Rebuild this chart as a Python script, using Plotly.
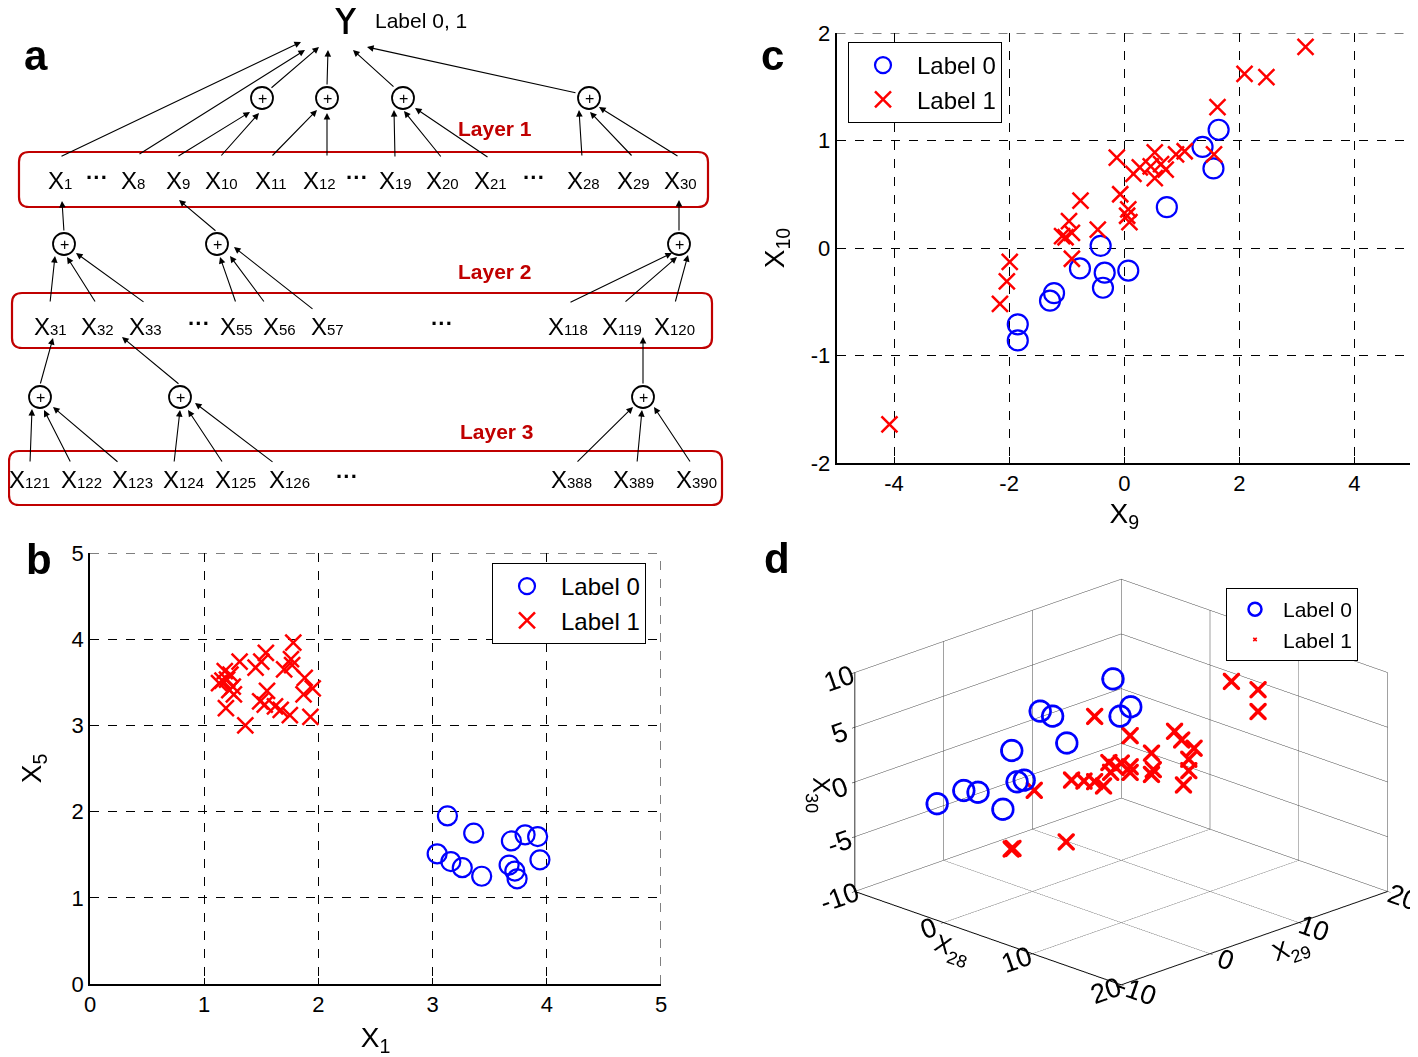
import plotly.graph_objects as go

# The page body has an 8px margin, so the figure is sized to fill the rest of the window
OFF = 8
VW, VH = 1418, 1057
W, H = VW - OFF, VH - OFF


def px(x):
    return (x - OFF) / W


def py(y):
    return 1 - (y - OFF) / H


# ---------------- panel b data (X1 vs X5) ----------------
b_l0_x1 = [3.13, 3.36, 3.69, 3.81, 3.92, 3.04, 3.16, 3.26, 3.43, 3.67, 3.72, 3.74, 3.94]
b_l0_x5 = [1.95, 1.75, 1.66, 1.73, 1.71, 1.51, 1.42, 1.35, 1.25, 1.38, 1.31, 1.22, 1.44]
b_l1_x1 = [1.78, 1.54, 1.31, 1.76, 1.50, 1.45, 1.18, 1.23, 1.70, 1.77, 1.13, 1.20, 1.25, 1.16,
           1.88, 1.95, 1.87, 1.55, 1.26, 1.19, 1.53, 1.62, 1.67, 1.75, 1.93, 1.36, 1.49, 1.22]
b_l1_x5 = [3.96, 3.84, 3.74, 3.77, 3.74, 3.67, 3.63, 3.59, 3.65, 3.70, 3.49, 3.53, 3.45, 3.52,
           3.55, 3.43, 3.36, 3.40, 3.36, 3.20, 3.24, 3.22, 3.18, 3.12, 3.10, 3.00, 3.28, 3.41]
b_ticks = [0, 1, 2, 3, 4, 5]
b_ticktext = ["0", "1", "2", "3", "4", "5"]

# ---------------- panel c data (X9 vs X10) ----------------
c_l0_x9 = [-1.85, -1.85, -1.22, -1.29, -0.77, -0.41, -0.34, -0.37, 0.07, 0.74, 1.36, 1.64, 1.55]
c_l0_x10 = [-0.71, -0.86, -0.42, -0.49, -0.19, 0.02, -0.23, -0.37, -0.21, 0.38, 0.94, 1.10, 0.74]
c_l1_x9 = [-4.08, -2.16, -2.04, -1.99, -0.91, -1.02, -0.91, -0.96, -1.08, -0.76, -0.46, -0.13,
           -0.07, 0.07, 0.09, 0.05, 0.16, 0.27, 0.46, 0.53, 0.53, 0.64, 0.72, 0.90, 1.05, 1.56,
           1.62, 2.09, 2.47, 3.15]
c_l1_x10 = [-1.64, -0.52, -0.31, -0.13, -0.10, 0.10, 0.14, 0.25, 0.11, 0.44, 0.17, 0.84,
            0.50, 0.36, 0.24, 0.30, 0.69, 0.75, 0.76, 0.89, 0.65, 0.78, 0.73, 0.87, 0.90, 0.87,
            1.31, 1.62, 1.59, 1.87]
c_xticks = [-4, -2, 0, 2, 4]
c_xticktext = ["-4", "-2", "0", "2", "4"]
c_yticks = [-2, -1, 0, 1, 2]
c_yticktext = ["-2", "-1", "0", "1", "2"]

# ---------------- panel d data (X28, X29, X30) ----------------
d_l0_x28 = [-3.9, -5.4, -0.1, 2.8, -4.2, 0.6, -0.5, -2.6, 2.6, 4.9, 3.0, 6.4, 5.5]
d_l0_x29 = [-6.9, -2.4, -6.1, -6.2, 1.8, -2.4, -0.5, 3.4, -0.4, -1.1, 6.0, 3.4, 5.5]
d_l0_x30 = [-1.1, -1.6, 0.8, 0.1, 1.2, 0.9, 0.2, 4.8, 6.9, 5.3, 8.6, 6.9, 6.9]
d_l1_x28 = [1.8, 0.4, 6.4, -1.4, 0.5, 7.0, 5.2, 2.9, 5.0, 2.5, 7.3, 3.2, 6.5, 2.5, 8.5,
            5.2, 8.3, 3.7, 9.5, 6.9, 9.1, 11.8, 7.3, 10.0, 8.2, 14.2, 11.2, 4.4]
d_l1_x29 = [-4.2, -2.6, -2.6, 1.6, 6.5, 4.0, -0.8, 2.9, 2.0, 5.5, 1.3, 6.2, 3.5, 8.5, 2.5,
            8.2, 5.3, 9.7, 6.5, 9.9, 9.1, 5.8, 10.3, 7.0, 14.2, 11.2, 14.2, 4.4]
d_l1_x30 = [-4.4, -5.2, -2.9, -1.6, 4.3, 5.1, 1.9, 0.1, 0.9, -1.2, 3.5, 0.5, 2.6, -0.3, 2.6,
            1.8, 2.0, -1.0, 5.5, 3.0, 3.1, 3.8, 0.2, 0.6, 7.5, 9.3, 5.6, 0.9]
d_xyticks = [-10, 0, 10, 20]
d_xyticktext = ["-10", "0", "10", "20"]
d_zticks = [-10, -5, 0, 5, 10]
d_zticktext = ["-10", "-5", "0", "5", "10"]

# ---------------- panel a: schematic (window pixel coordinates) ----------------
layer_boxes = [(19, 152, 708, 207), (12, 293, 712, 348), (9, 451, 722, 505)]
layer_titles = [("Layer 1", 495, 128), ("Layer 2", 495, 271), ("Layer 3", 497, 431)]
node_labels = [
    ("1", 60, 180), ("8", 133, 180), ("9", 178, 180), ("10", 221, 180), ("11", 271, 180),
    ("12", 319, 180), ("19", 395, 180), ("20", 442, 180), ("21", 490, 180), ("28", 583, 180),
    ("29", 633, 180), ("30", 680, 180),
    ("31", 50, 326), ("32", 97, 326), ("33", 145, 326), ("55", 236, 326), ("56", 279, 326),
    ("57", 327, 326), ("118", 568, 326), ("119", 622, 326), ("120", 674, 326),
    ("121", 29, 479), ("122", 81, 479), ("123", 132, 479), ("124", 183, 479), ("125", 235, 479),
    ("126", 289, 479), ("388", 571, 479), ("389", 633, 479), ("390", 696, 479),
]
ellipses = [(97, 177), (357, 177), (534, 177), (199, 323), (442, 323), (347, 476)]
plus_nodes = [(262, 98), (327, 98), (403, 98), (589, 98),
              (64, 244), (217, 244), (679, 244),
              (40, 397), (180, 397), (643, 397)]
arrows = [  # tail x, tail y, head x, head y
    (60, 157, 301, 42), (138, 155, 305, 50), (270, 89, 319, 47), (327, 86, 328, 50),
    (395, 88, 353, 50), (577, 93, 367, 47),
    (177, 157, 250, 112), (220, 157, 259, 113), (271, 157, 317, 110), (327, 157, 327, 113),
    (395, 158, 394, 110), (442, 158, 404, 111), (489, 158, 415, 108),
    (582, 157, 579, 110), (633, 157, 590, 112), (679, 157, 599, 107),
    (64, 232, 62, 201), (217, 232, 179, 200), (679, 232, 679, 200),
    (50, 303, 55, 256), (96, 303, 67, 257), (145, 303, 76, 253),
    (236, 303, 220, 257), (265, 303, 230, 256), (314, 310, 234, 247),
    (569, 303, 672, 253), (624, 303, 677, 257), (675, 303, 688, 255),
    (40, 385, 53, 338), (180, 385, 122, 337), (643, 385, 643, 337),
    (30, 463, 32, 409), (71, 463, 44, 410), (119, 463, 53, 407),
    (174, 463, 180, 410), (223, 463, 188, 410), (274, 463, 195, 403),
    (576, 463, 633, 407), (637, 463, 642, 410), (691, 463, 654, 407),
]

RED = "#c00000"
FONT = "Liberation Sans, Arial, sans-serif"

fig = go.Figure()

# panel b
fig.add_trace(go.Scatter(x=b_l0_x1, y=b_l0_x5, mode="markers", name="Label 0",
                         marker=dict(symbol="circle-open", size=19, color="#0000ff",
                                     line=dict(width=2.2, color="#0000ff")),
                         xaxis="x", yaxis="y", legend="legend"))
fig.add_trace(go.Scatter(x=b_l1_x1, y=b_l1_x5, mode="markers", name="Label 1",
                         marker=dict(symbol="x-thin", size=16, color="#ff0000",
                                     line=dict(width=2.5, color="#ff0000")),
                         xaxis="x", yaxis="y", legend="legend"))
# panel c
fig.add_trace(go.Scatter(x=c_l0_x9, y=c_l0_x10, mode="markers", name="Label 0",
                         marker=dict(symbol="circle-open", size=20, color="#0000ff",
                                     line=dict(width=2.2, color="#0000ff")),
                         xaxis="x2", yaxis="y2", legend="legend2"))
fig.add_trace(go.Scatter(x=c_l1_x9, y=c_l1_x10, mode="markers", name="Label 1",
                         marker=dict(symbol="x-thin", size=16, color="#ff0000",
                                     line=dict(width=2.5, color="#ff0000")),
                         xaxis="x2", yaxis="y2", legend="legend2"))
# panel d
fig.add_trace(go.Scatter3d(x=d_l0_x28, y=d_l0_x29, z=d_l0_x30, mode="markers", name="Label 0",
                           marker=dict(symbol="circle-open", size=13, color="#0000ff",
                                       line=dict(width=2.5, color="#0000ff")),
                           scene="scene", legend="legend3"))
fig.add_trace(go.Scatter3d(x=d_l1_x28, y=d_l1_x29, z=d_l1_x30, mode="markers", name="Label 1",
                           marker=dict(symbol="x", size=4, color="#ff0000"),
                           scene="scene", legend="legend3"))
# invisible trace anchoring the schematic axes
fig.add_trace(go.Scatter(x=[None], y=[None], xaxis="x3", yaxis="y3", showlegend=False,
                         hoverinfo="skip"))

# ---------- axes for b and c ----------
common = dict(showline=True, linecolor="black", linewidth=1.5, ticks="inside", ticklen=6,
              tickcolor="black", showgrid=True, gridcolor="black", griddash="dash",
              gridwidth=1, zeroline=False, mirror=False, automargin=False,
              tickfont=dict(family=FONT, size=22, color="black"))
tfont = dict(family=FONT, size=28, color="black")

fig.update_layout(
    xaxis=dict(domain=[px(90), px(661)], range=[0, 5], tickvals=b_ticks, ticktext=b_ticktext,
               anchor="y", title=dict(text="X<sub>1</sub>", font=tfont, standoff=14), **common),
    yaxis=dict(domain=[py(984), py(553)], range=[0, 5], tickvals=b_ticks,
               ticktext=b_ticktext, anchor="x",
               title=dict(text="X<sub>5</sub>", font=tfont, standoff=22), **common),
    xaxis2=dict(domain=[px(836.5), px(1412)], range=[-5, 5], tickvals=c_xticks,
                ticktext=c_xticktext, anchor="y2",
                title=dict(text="X<sub>9</sub>", font=tfont, standoff=8), **common),
    yaxis2=dict(domain=[py(463), py(33)], range=[-2, 2], tickvals=c_yticks,
                ticktext=c_yticktext, anchor="x2",
                title=dict(text="X<sub>10</sub>", font=tfont, standoff=18), **common),
    xaxis3=dict(domain=[0, px(725)], range=[OFF, 725], visible=False, fixedrange=True,
                anchor="y3", automargin=False),
    yaxis3=dict(domain=[py(512), 1], range=[512, OFF], visible=False, fixedrange=True,
                anchor="x3", automargin=False),
)

# ---------- 3D scene ----------
ax3 = dict(showbackground=False, gridcolor="#444444", gridwidth=1, showline=True,
           linecolor="black", linewidth=2, zeroline=False, showspikes=False,
           ticks="outside", tickcolor="black", ticklen=4,
           tickfont=dict(family=FONT, size=18, color="black"))
fig.update_layout(scene=dict(
    domain=dict(x=[px(770), 1], y=[0, py(507)]),
    xaxis=dict(range=[-10, 20], tickvals=d_xyticks, ticktext=d_xyticktext,
               title=dict(text="X<sub>28</sub>", font=dict(family=FONT, size=24)), **ax3),
    yaxis=dict(range=[-10, 20], tickvals=d_xyticks, ticktext=d_xyticktext,
               title=dict(text="X<sub>29</sub>", font=dict(family=FONT, size=24)), **ax3),
    zaxis=dict(range=[-10, 10], tickvals=d_zticks, ticktext=d_zticktext,
               title=dict(text="X<sub>30</sub>", font=dict(family=FONT, size=24)), **ax3),
    aspectmode="manual", aspectratio=dict(x=1.37, y=1.37, z=0.85),
    camera=dict(eye=dict(x=0.78, y=-0.92, z=0.45), up=dict(x=0, y=0, z=1),
                center=dict(x=-0.07, y=-0.07, z=0), projection=dict(type="orthographic")),
    bgcolor="rgba(0,0,0,0)",
))

# dashed border gridlines (top / right) like the reference
border_lines = [
    dict(type="line", xref="x", yref="y", x0=0, x1=5, y0=5, y1=5),
    dict(type="line", xref="x", yref="y", x0=5, x1=5, y0=0, y1=5),
    dict(type="line", xref="x2", yref="y2", x0=-5, x1=5, y0=2, y1=2),
]

# ---------- legends ----------
leg = dict(bgcolor="white", bordercolor="black", borderwidth=1,
           font=dict(family=FONT, size=24, color="black"), xanchor="left", yanchor="top",
           itemsizing="trace", tracegroupgap=0, itemwidth=58)
fig.update_layout(
    legend=dict(x=px(492), y=py(563), **leg),
    legend2=dict(x=px(848), y=py(42), **leg),
    legend3=dict(x=px(1226), y=py(588), **{**leg, "font": dict(family=FONT, size=21,
                                                                 color="black"),
                                             "itemwidth": 46}),
)

# ---------- schematic shapes & annotations ----------
shapes = []
annotations = []

for s in border_lines:
    s["line"] = dict(color="black", width=1, dash="dash")
    shapes.append(s)


def rrect(x0, y0, x1, y1, r=10):
    return (f"M {x0 + r},{y0} L {x1 - r},{y0} Q {x1},{y0} {x1},{y0 + r} "
            f"L {x1},{y1 - r} Q {x1},{y1} {x1 - r},{y1} L {x0 + r},{y1} "
            f"Q {x0},{y1} {x0},{y1 - r} L {x0},{y0 + r} Q {x0},{y0} {x0 + r},{y0} Z")


for (x0, y0, x1, y1) in layer_boxes:
    shapes.append(dict(type="path", path=rrect(x0, y0, x1, y1), xref="x3", yref="y3",
                       line=dict(color=RED, width=2.2)))

for (cx, cy) in plus_nodes:
    r = 11
    shapes.append(dict(type="circle", xref="x3", yref="y3", x0=cx - r, x1=cx + r,
                       y0=cy - r, y1=cy + r, line=dict(color="black", width=1.8)))
    annotations.append(dict(x=cx, y=cy, xref="x3", yref="y3", text="+", showarrow=False,
                            font=dict(family=FONT, size=16, color="black")))

for (tx, ty, hx, hy) in arrows:
    annotations.append(dict(x=hx, y=hy, ax=tx, ay=ty, xref="x3", yref="y3", axref="x3",
                            ayref="y3", text="", showarrow=True, arrowhead=2, arrowsize=1.2,
                            arrowwidth=1.1, arrowcolor="black", standoff=0, startstandoff=0))

for (num, x, y) in node_labels:
    annotations.append(dict(x=x, y=y, xref="x3", yref="y3",
                            text=f"X<span style='font-size:15px'>{num}</span>",
                            showarrow=False, font=dict(family=FONT, size=24, color="black")))

for (x, y) in ellipses:
    annotations.append(dict(x=x, y=y, xref="x3", yref="y3", text="<b>···</b>",
                            showarrow=False, font=dict(family=FONT, size=22, color="black")))

for (t, x, y) in layer_titles:
    annotations.append(dict(x=x, y=y, xref="x3", yref="y3", text=f"<b>{t}</b>",
                            showarrow=False, font=dict(family=FONT, size=21, color=RED)))

annotations.append(dict(x=345, y=18, xref="x3", yref="y3", text="Y", showarrow=False,
                        font=dict(family=FONT, size=44, color="black")))
annotations.append(dict(x=373, y=20, xref="x3", yref="y3", text="Label 0, 1",
                        showarrow=False, xanchor="left",
                        font=dict(family=FONT, size=21, color="black")))

# panel letters
for (t, x, y) in [("a", 22, 30), ("b", 24, 560), ("c", 773, 30), ("d", 777, 558)]:
    annotations.append(dict(x=px(x), y=py(y), xref="paper", yref="paper",
                            text=f"<b>{t}</b>", showarrow=False,
                            font=dict(family=FONT, size=42, color="black")))

fig.update_layout(
    width=W, height=H, margin=dict(l=0, r=0, t=0, b=0, autoexpand=False),
    paper_bgcolor="white", plot_bgcolor="white",
    shapes=shapes, annotations=annotations,
    font=dict(family=FONT, color="black"),
)

fig.write_html("out.html")
